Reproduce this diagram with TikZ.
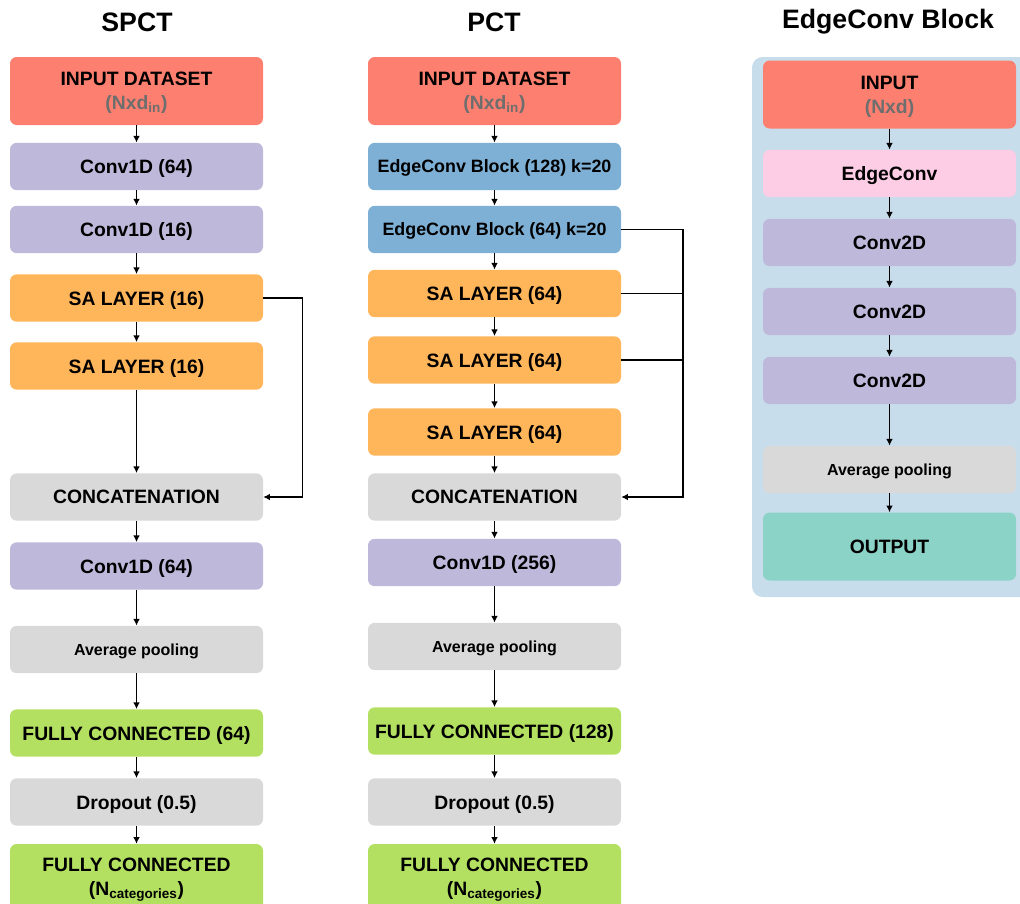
\documentclass[tikz,border=0pt]{standalone}
\usepackage{fontspec}
\setmainfont{Liberation Sans}
\usetikzlibrary{arrows.meta}

\definecolor{inred}{HTML}{FD7F6F}
\definecolor{convpurple}{HTML}{BEB9DB}
\definecolor{saorange}{HTML}{FFB55A}
\definecolor{opgray}{HTML}{D9D9D9}
\definecolor{fcgreen}{HTML}{B3E061}
\definecolor{ecblue}{HTML}{7EB0D5}
\definecolor{ecpink}{HTML}{FDCCE5}
\definecolor{outteal}{HTML}{8BD3C7}
\definecolor{panelblue}{HTML}{C8DDEC}
\definecolor{subgray}{HTML}{6E6E6E}

\begin{document}
\begin{tikzpicture}[x=0.75pt,y=-0.75pt,
    box/.style={rounded corners=5pt, minimum width=189.75pt, minimum height=35.5pt,
      inner sep=0pt, text depth=0pt, align=center, font=\bfseries\fontsize{14.5}{18}\selectfont},
    tall/.style={minimum height=51pt},
    smalltext/.style={font=\bfseries\fontsize{12}{15}\selectfont},
    ectext/.style={font=\bfseries\fontsize{13.4}{16}\selectfont},
    title/.style={font=\bfseries\fontsize{20}{24}\selectfont},
    arr/.style={-{Latex[length=5pt,width=5pt]}, line width=0.9pt}]

    \useasboundingbox (0,0) rectangle (1020,903);

    % titles
    \node[title] (tspct) at (137,22) {SPCT};
    \node[title] (tpct) at (494,22) {PCT};
    \node[title] (tec) at (888,22) {EdgeConv Block};

    % SPCT
    \node[box, tall, fill=inred] (in1) at (136.5,91) {INPUT DATASET\\{\color{subgray}(Nxd\textsubscript{in})}};
    \node[box, fill=convpurple] (c1) at (136.5,166.5) {Conv1D (64)};
    \node[box, fill=convpurple] (c2) at (136.5,229.5) {Conv1D (16)};
    \node[box, fill=saorange] (sa1) at (136.5,298) {SA LAYER (16)};
    \node[box, fill=saorange] (sa2) at (136.5,366) {SA LAYER (16)};
    \node[box, fill=opgray] (cat1) at (136.5,497) {CONCATENATION};
    \node[box, fill=convpurple] (c3) at (136.5,566) {Conv1D (64)};
    \node[box, smalltext, fill=opgray] (pool1) at (136.5,649.5) {Average pooling};
    \node[box, fill=fcgreen] (fc1) at (136.5,733) {FULLY CONNECTED (64)};
    \node[box, fill=opgray] (drop1) at (136.5,802) {Dropout (0.5)};
    \node[box, minimum height=49.5pt, fill=fcgreen] (out1) at (136.5,877) {FULLY CONNECTED\\(N\textsubscript{categories})};

    \draw[arr] (in1) -- (c1); \draw[arr] (c1) -- (c2); \draw[arr] (c2) -- (sa1);
    \draw[arr] (sa1) -- (sa2); \draw[arr] (sa2) -- (cat1); \draw[arr] (cat1) -- (c3);
    \draw[arr] (c3) -- (pool1); \draw[arr] (pool1) -- (fc1); \draw[arr] (fc1) -- (drop1);
    \draw[arr] (drop1) -- (out1);
    \draw[arr] (sa1.east) -- ++(39,0) |- (cat1.east);

    % PCT
    \node[box, tall, fill=inred] (in2) at (494.5,91) {INPUT DATASET\\{\color{subgray}(Nxd\textsubscript{in})}};
    \node[box, ectext, fill=ecblue] (ec1) at (494.5,166.5) {EdgeConv Block (128) k=20};
    \node[box, ectext, fill=ecblue] (ec2) at (494.5,229.5) {EdgeConv Block (64) k=20};
    \node[box, fill=saorange] (sa3) at (494.5,293.5) {SA LAYER (64)};
    \node[box, fill=saorange] (sa4) at (494.5,360) {SA LAYER (64)};
    \node[box, fill=saorange] (sa5) at (494.5,432) {SA LAYER (64)};
    \node[box, fill=opgray] (cat2) at (494.5,497) {CONCATENATION};
    \node[box, fill=convpurple] (c4) at (494.5,562.5) {Conv1D (256)};
    \node[box, smalltext, fill=opgray] (pool2) at (494.5,646.5) {Average pooling};
    \node[box, fill=fcgreen] (fc2) at (494.5,731) {FULLY CONNECTED (128)};
    \node[box, fill=opgray] (drop2) at (494.5,802) {Dropout (0.5)};
    \node[box, minimum height=49.5pt, fill=fcgreen] (out2) at (494.5,877) {FULLY CONNECTED\\(N\textsubscript{categories})};

    \draw[arr] (in2) -- (ec1); \draw[arr] (ec1) -- (ec2); \draw[arr] (ec2) -- (sa3);
    \draw[arr] (sa3) -- (sa4); \draw[arr] (sa4) -- (sa5); \draw[arr] (sa5) -- (cat2);
    \draw[arr] (cat2) -- (c4); \draw[arr] (c4) -- (pool2); \draw[arr] (pool2) -- (fc2);
    \draw[arr] (fc2) -- (drop2); \draw[arr] (drop2) -- (out2);
    \coordinate (bus) at (683,229.5);
    \draw[arr] (ec2.east) -- (bus) |- (cat2.east);
    \draw[line width=0.9pt] (sa3.east) -- (sa3.east -| bus);
    \draw[line width=0.9pt] (sa4.east) -- (sa4.east -| bus);
    \draw[line width=1.4pt] (sa4.east -| bus) -- ++(0,128);

    % EdgeConv block
    \path[fill=panelblue, rounded corners=8pt] (752,57) rectangle (1040,597);
    \node[box, tall, fill=inred] (in3) at (889.5,94.5) {INPUT\\{\color{subgray}(Nxd)}};
    \node[box, fill=ecpink] (ecv) at (889.5,173.5) {EdgeConv};
    \node[box, fill=convpurple] (cv1) at (889.5,242.5) {Conv2D};
    \node[box, fill=convpurple] (cv2) at (889.5,311.5) {Conv2D};
    \node[box, fill=convpurple] (cv3) at (889.5,380.5) {Conv2D};
    \node[box, smalltext, fill=opgray] (pool3) at (889.5,469.5) {Average pooling};
    \node[box, tall, fill=outteal] (out3) at (889.5,546.5) {OUTPUT};

    \draw[arr] (in3) -- (ecv); \draw[arr] (ecv) -- (cv1); \draw[arr] (cv1) -- (cv2);
    \draw[arr] (cv2) -- (cv3); \draw[arr] (cv3) -- (pool3); \draw[arr] (pool3) -- (out3);

\end{tikzpicture}
\end{document}
